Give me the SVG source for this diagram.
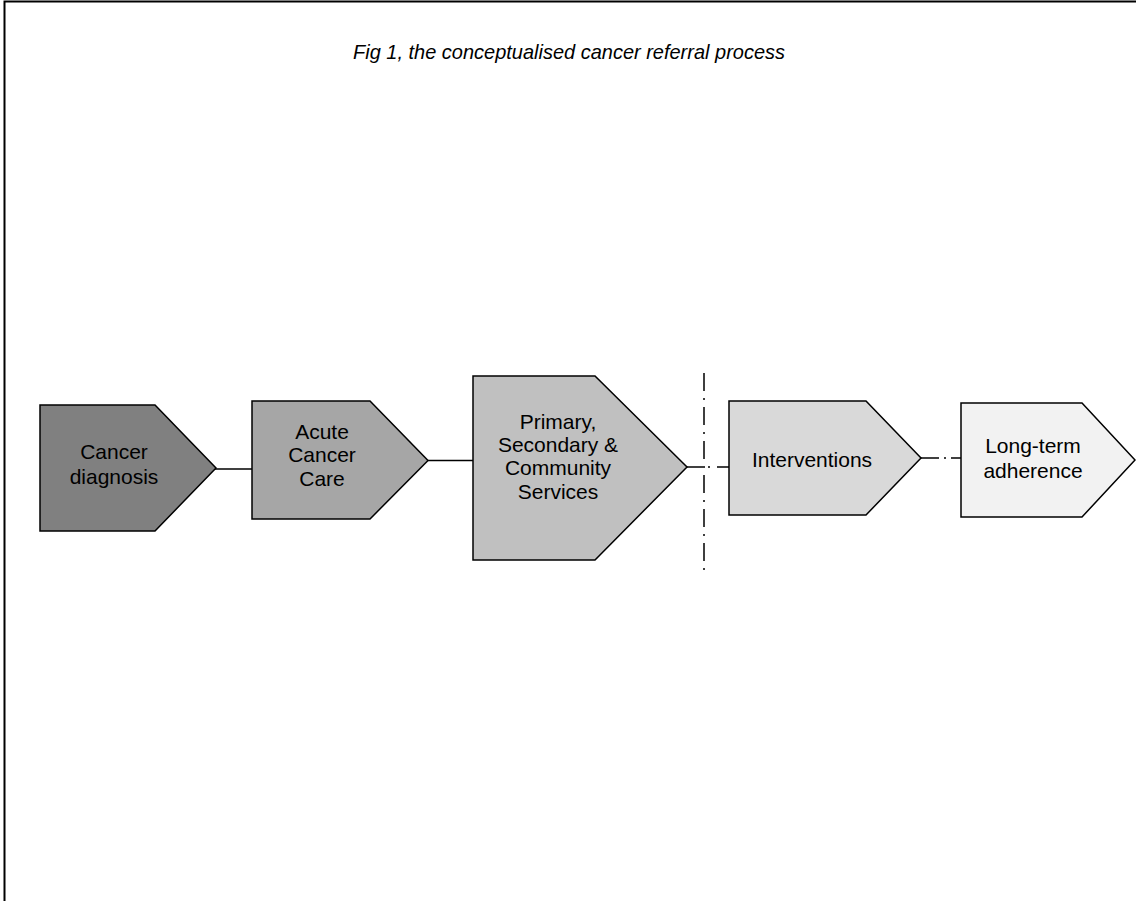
<svg xmlns="http://www.w3.org/2000/svg" width="1136" height="901" viewBox="0 0 1136 901">
<style>
.node path{stroke:#000;stroke-width:1.5;stroke-linejoin:miter}
.lbl{font-family:"Liberation Sans",Arial,sans-serif;font-size:21px;fill:#000;text-anchor:middle}
.title{font-family:"Liberation Sans Narrow","Liberation Sans",Arial,sans-serif;font-style:italic;font-size:21px;fill:#000}
.conn line{stroke:#000;stroke-width:1.5}
.sep{stroke:#000;stroke-width:1.5;stroke-dasharray:18 7 2 7}
</style>
<rect x="4.5" y="1.5" width="1200" height="1000" fill="#fff" stroke="#000" stroke-width="2"/>
<text class="title" x="353" y="59" textLength="432" lengthAdjust="spacingAndGlyphs">Fig 1, the conceptualised  cancer referral process</text>
<g class="conn" id="connectors">
<line x1="208" y1="469" x2="252" y2="469"/>
<line x1="428" y1="460.5" x2="473" y2="460.5"/>
<line x1="687" y1="467" x2="703" y2="467"/>
<line x1="708" y1="467" x2="710" y2="467"/>
<line x1="717" y1="467" x2="729" y2="467"/>
<line x1="921" y1="458" x2="939" y2="458"/>
<line x1="944" y1="458" x2="946" y2="458"/>
<line x1="951" y1="458" x2="961" y2="458"/>
<line class="sep" x1="704" y1="373" x2="704" y2="573"/>
</g>
<g class="node" id="n1">
<path d="M40,405 H155 L216,468 L155,531 H40 Z" fill="#808080"/>
<text class="lbl" x="114" y="459">Cancer</text>
<text class="lbl" x="114" y="484">diagnosis</text>
</g>
<g class="node" id="n2">
<path d="M252,401 H370 L428,460.5 L370,519 H252 Z" fill="#a6a6a6"/>
<text class="lbl" x="322" y="439">Acute</text>
<text class="lbl" x="322" y="462">Cancer</text>
<text class="lbl" x="322" y="486">Care</text>
</g>
<g class="node" id="n3">
<path d="M473,376 H595 L687,467 L595,560 H473 Z" fill="#c0c0c0"/>
<text class="lbl" x="558" y="429">Primary,</text>
<text class="lbl" x="558" y="452">Secondary &amp;</text>
<text class="lbl" x="558" y="475">Community</text>
<text class="lbl" x="558" y="499">Services</text>
</g>
<g class="node" id="n4">
<path d="M729,401 H866 L921,458 L866,515 H729 Z" fill="#d9d9d9"/>
<text class="lbl" x="812" y="467">Interventions</text>
</g>
<g class="node" id="n5">
<path d="M961,403 H1082 L1135,460 L1082,517 H961 Z" fill="#f2f2f2"/>
<text class="lbl" x="1033" y="453">Long-term</text>
<text class="lbl" x="1033" y="478">adherence</text>
</g>
</svg>
